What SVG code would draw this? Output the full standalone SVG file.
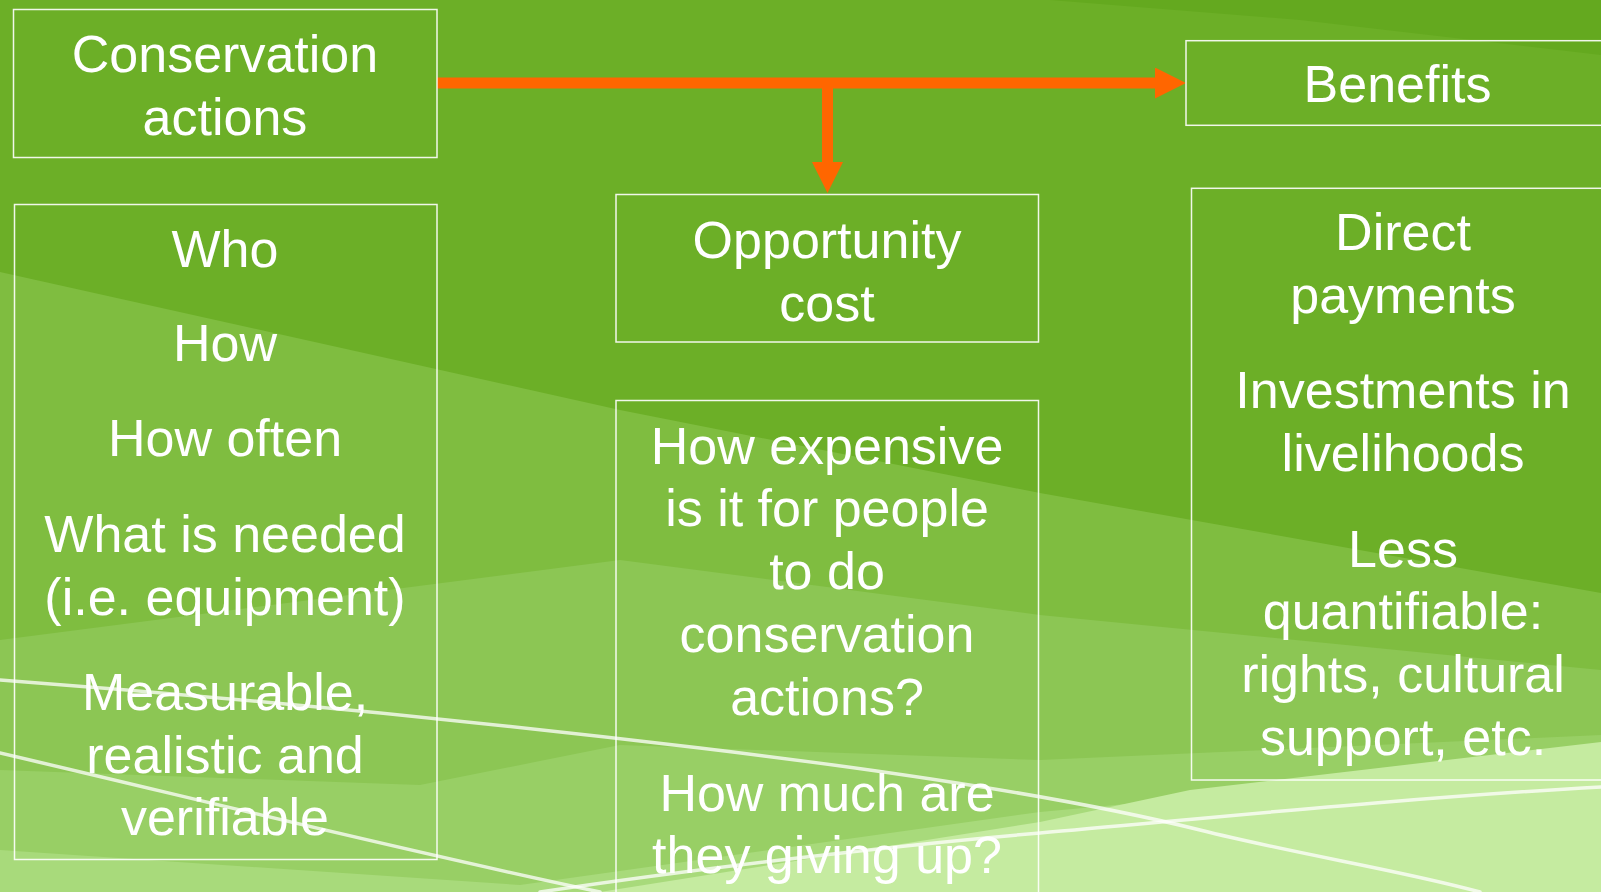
<svg xmlns="http://www.w3.org/2000/svg" width="1601" height="892" viewBox="0 0 1601 892">
<defs>
<style>
.box{fill:none;stroke:#ffffff;stroke-width:1.5;stroke-opacity:0.9}
.t{font-family:"Liberation Sans",Arial,sans-serif;font-size:52px;fill:#ffffff;text-anchor:middle}
.wire{fill:none;stroke:#ffffff;stroke-opacity:0.75;stroke-width:3.5;stroke-linecap:round}
.arr{fill:none;stroke:#ff6600;stroke-width:11}
</style>
<marker id="ah" markerUnits="userSpaceOnUse" markerWidth="31" markerHeight="31" refX="2" refY="15.5" orient="auto">
<path d="M0,0 L31,15.5 L0,31 Z" fill="#ff6600"/>
</marker>
</defs>
<g id="background">
<rect x="0" y="0" width="1601" height="892" fill="#6caf27"/>
<polygon points="1050,0 1601,0 1601,55 1300,20" fill="#64a91f"/>
<polygon points="0,272 620,410 1040,493 1601,593 1601,892 0,892" fill="#7fbd40"/>
<polygon points="0,640 620,560 1040,615 1601,670 1601,892 0,892" fill="#8cc654"/>
<polygon points="0,770 420,785 620,745 1040,760 1601,735 1601,892 0,892" fill="#98cf65"/>
<polygon points="0,850 520,885 1040,812 1601,760 1601,892 0,892" fill="#a8da7b"/>
<polygon points="600,892 1040,822 1190,790 1601,742 1601,892" fill="#c5eba0"/>
<path class="wire" d="M0,680 C200,695 450,718 700,748 S1100,805 1200,830 S1400,870 1480,892"/>
<path class="wire" d="M0,753 C180,795 400,850 600,892"/>
<path class="wire" d="M540,892 C700,868 900,845 1040,833 S1400,798 1601,787"/>
</g>
<g id="connectors">
<path class="arr" d="M437,83 L1157,83" marker-end="url(#ah)"/>
<path class="arr" d="M827.5,83 L827.5,164" marker-end="url(#ah)"/>
</g>
<g id="conservation-actions">
<rect class="box" x="13.5" y="9.5" width="423.5" height="148"/>
<text class="t" x="225" y="72">Conservation</text>
<text class="t" x="225" y="135">actions</text>
</g>
<g id="conservation-details">
<rect class="box" x="14.5" y="204.5" width="422.5" height="655"/>
<text class="t" x="225" y="267">Who</text>
<text class="t" x="225" y="361">How</text>
<text class="t" x="225" y="456">How often</text>
<text class="t" x="225" y="551.5">What is needed</text>
<text class="t" x="225" y="614.5">(i.e. equipment)</text>
<text class="t" x="225" y="710">Measurable,</text>
<text class="t" x="225" y="772.5">realistic and</text>
<text class="t" x="225" y="835">verifiable</text>
</g>
<g id="opportunity-cost">
<rect class="box" x="616" y="194.5" width="422.5" height="147.5"/>
<text class="t" x="827" y="258">Opportunity</text>
<text class="t" x="827" y="321">cost</text>
</g>
<g id="opportunity-details">
<rect class="box" x="616" y="400.5" width="422.5" height="520"/>
<text class="t" x="827" y="463.5">How expensive</text>
<text class="t" x="827" y="526.3">is it for people</text>
<text class="t" x="827" y="589">to do</text>
<text class="t" x="827" y="651.8">conservation</text>
<text class="t" x="827" y="714.6">actions?</text>
<text class="t" x="827" y="810.7">How much are</text>
<text class="t" x="827" y="873.3">they giving up?</text>
</g>
<g id="benefits">
<rect class="box" x="1186" y="40.7" width="440" height="84.6"/>
<text class="t" x="1397.5" y="101.7">Benefits</text>
</g>
<g id="benefits-details">
<rect class="box" x="1191.5" y="188.3" width="440" height="591.7"/>
<text class="t" x="1403" y="250">Direct</text>
<text class="t" x="1403" y="313">payments</text>
<text class="t" x="1403" y="408.3">Investments in</text>
<text class="t" x="1403" y="471.3">livelihoods</text>
<text class="t" x="1403" y="566.5">Less</text>
<text class="t" x="1403" y="629.3">quantifiable:</text>
<text class="t" x="1403" y="692.1">rights, cultural</text>
<text class="t" x="1403" y="755">support, etc.</text>
</g>
</svg>
